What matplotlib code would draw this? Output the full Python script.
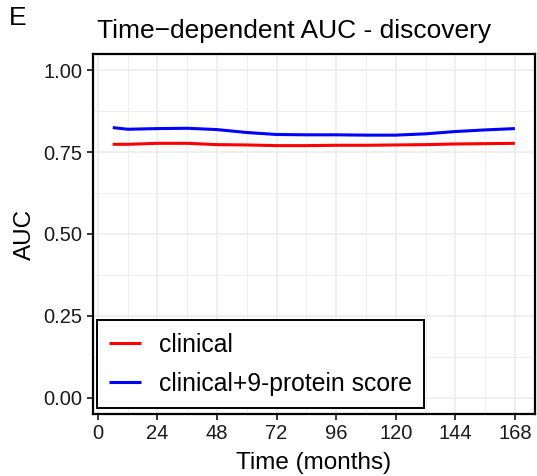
import matplotlib
matplotlib.use("Agg")
import matplotlib.pyplot as plt
from matplotlib.ticker import MultipleLocator

plt.rcParams['font.family'] = ['Liberation Sans', 'DejaVu Sans']

months = [6, 12, 24, 36, 48, 60, 72, 84, 96, 108, 120, 132, 144, 156, 168]
auc_clinical = [0.774, 0.774, 0.777, 0.777, 0.773, 0.772, 0.770, 0.770, 0.771, 0.771, 0.772, 0.773, 0.775, 0.776, 0.777]
auc_combined = [0.825, 0.820, 0.822, 0.823, 0.819, 0.810, 0.804, 0.803, 0.803, 0.802, 0.802, 0.806, 0.813, 0.818, 0.822]
series_labels = ["clinical", "clinical+9-protein score"]
series_colors = ["#ff0000", "#0000ff"]
x_ticks = [0, 24, 48, 72, 96, 120, 144, 168]
y_ticks = [0.00, 0.25, 0.50, 0.75, 1.00]

fig = plt.figure(figsize=(5.37, 4.76), dpi=100)
ax = fig.add_axes([0.1726, 0.1303, 0.8237, 0.7563])

for vals, lab, col in zip([auc_clinical, auc_combined], series_labels, series_colors):
    ax.plot(months, vals, color=col, lw=2.2, label=lab, solid_capstyle='butt')

span = max(months) - min(months)
ax.set_xlim(min(months) - 0.05 * span, max(months) + 0.05 * span)
ax.set_ylim(-0.05, 1.05)
ax.set_xticks(x_ticks)
ax.set_yticks(y_ticks)
ax.set_yticklabels([f"{v:.2f}" for v in y_ticks])
ax.xaxis.set_minor_locator(MultipleLocator(12))
ax.yaxis.set_minor_locator(MultipleLocator(0.125))
ax.grid(which='major', color='#ebebeb', lw=1.1)
ax.grid(which='minor', color='#ebebeb', lw=0.6)
ax.set_axisbelow(True)
for s in ax.spines.values():
    s.set_color('black')
    s.set_linewidth(1.6)
ax.tick_params(which='major', length=4.3, width=1.1, color='black', labelsize=14.5, labelcolor='#1a1a1a', pad=3.2)
ax.tick_params(which='minor', length=0)
ax.set_xlabel("Time (months)", fontsize=17.5, labelpad=6)
ax.set_ylabel("AUC", fontsize=17.5, labelpad=5.5)

leg = ax.legend(loc='lower left', bbox_to_anchor=(0.0097, 0.0167), fontsize=17.8,
                frameon=True, fancybox=False, edgecolor='black', framealpha=1,
                handlelength=1.3, handletextpad=0.7, borderpad=0.5, labelspacing=0.6,
                borderaxespad=0)
leg.get_frame().set_linewidth(1.4)

fig.text(97/537, 1 - 38/476, "Time\u2212dependent AUC - discovery", fontsize=19, ha='left', va='baseline')
fig.text(9/537, 1 - 25/476, "E", fontsize=19, ha='left', va='baseline')

fig.savefig("out.png", dpi=100)
